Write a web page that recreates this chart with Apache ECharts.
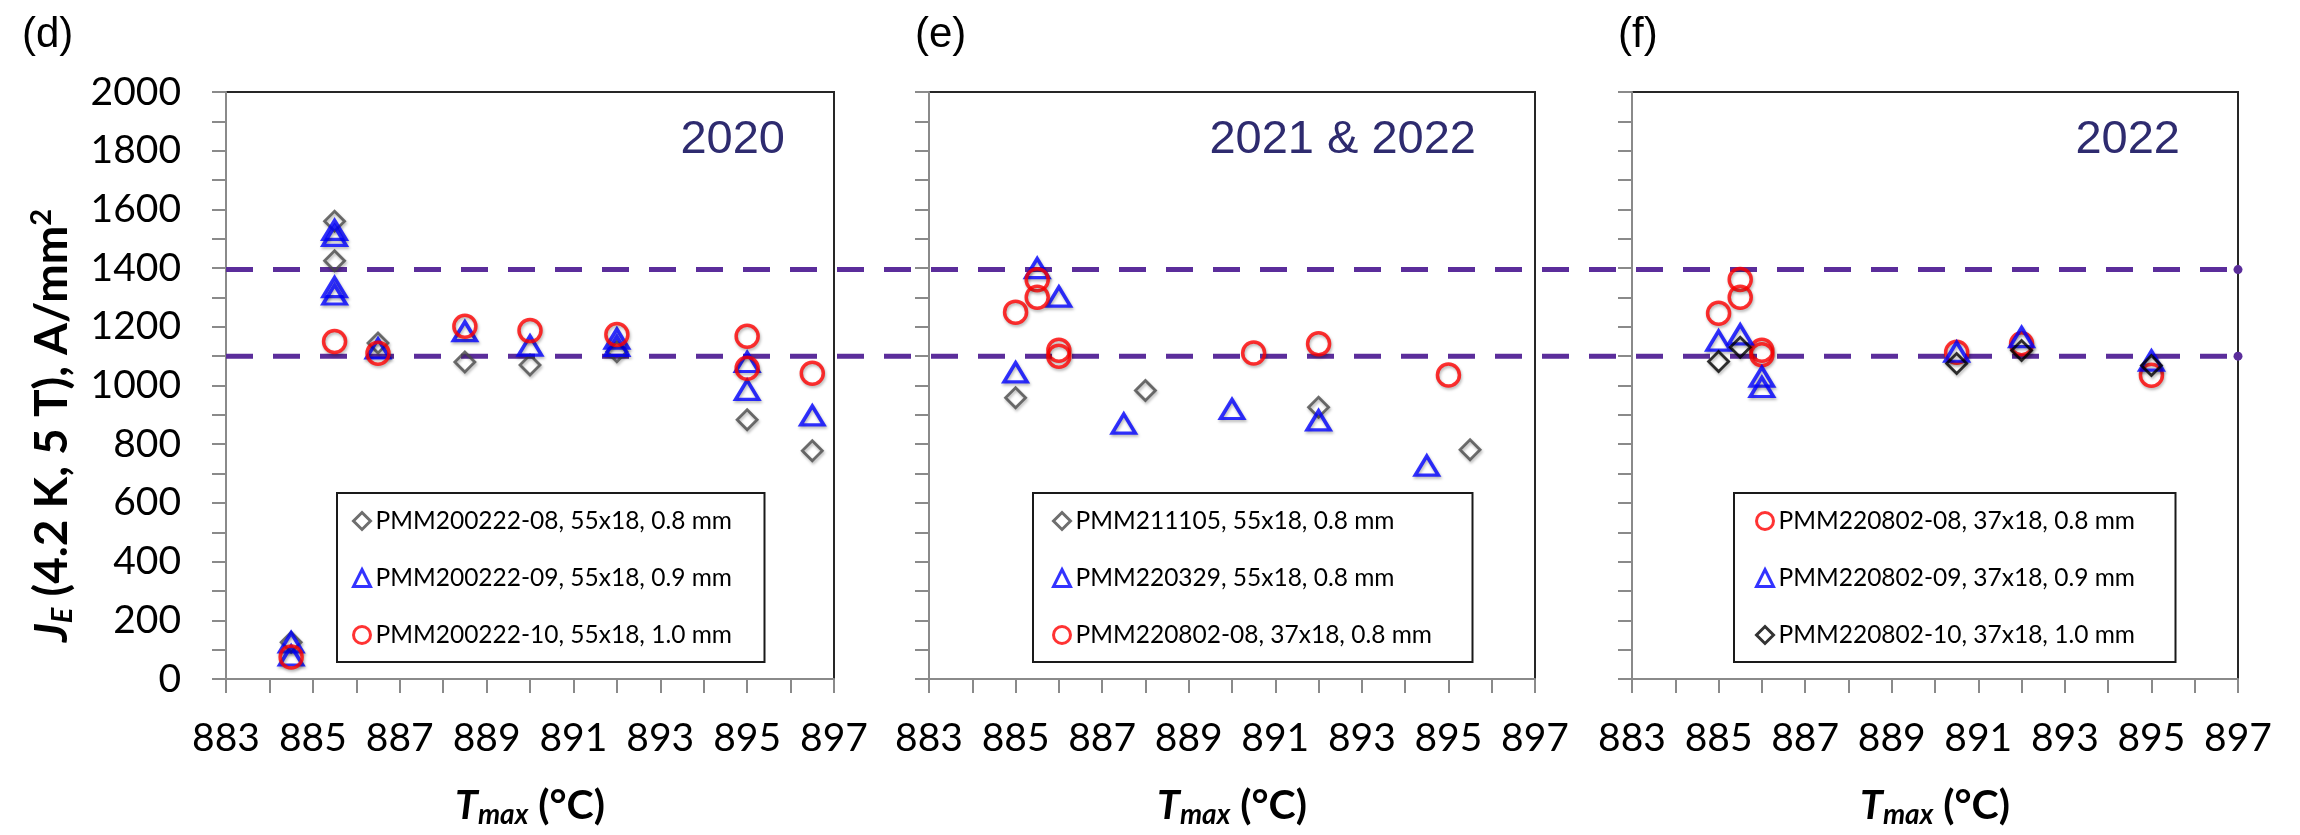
<!DOCTYPE html>
<html>
<head>
<meta charset="utf-8">
<script src="https://cdn.jsdelivr.net/npm/echarts/dist/echarts.min.js"></script>
<style>
  html, body { margin: 0; padding: 0; background: #fff; }
  #chart { width: 2300px; height: 835px; }
</style>
</head>
<body>
<div id="chart"></div>
<script>
// ---------------- data ----------------
const xMin = 883, xMax = 897;
const yMin = 0, yMax = 2000;
const thresholds = [1395, 1100];

const panelLabels = ['(d)', '(e)', '(f)'];
const yearLabels = ['2020', '2021 & 2022', '2022'];

// panel (d) 2020
const namesD = ['PMM200222-08, 55x18, 0.8 mm', 'PMM200222-09, 55x18, 0.9 mm', 'PMM200222-10, 55x18, 1.0 mm'];
const dDiamond = [[884.5,125],[885.5,1560],[885.5,1425],[886.5,1145],[888.5,1080],[890,1070],[892,1115],[895,883],[896.5,778]];
const dTriangle = [[884.5,125],[884.5,80],[885.5,1530],[885.5,1510],[885.5,1335],[885.5,1310],[886.5,1126],[888.5,1185],[890,1136],[892,1160],[892,1135],[895,1080],[895,985],[896.5,898]];
const dCircle = [[884.5,75],[885.5,1150],[886.5,1110],[888.5,1202],[890,1187],[892,1174],[895,1168],[895,1059],[896.5,1042]];

// panel (e) 2021 & 2022
const namesE = ['PMM211105, 55x18, 0.8 mm', 'PMM220329, 55x18, 0.8 mm', 'PMM220802-08, 37x18, 0.8 mm'];
const eDiamond = [[885,958],[888,983],[892,926],[895.5,781]];
const eTriangle = [[885,1045],[885.5,1400],[886,1303],[887.5,870],[890,920],[892,881],[894.5,727]];
const eCircle = [[885,1250],[885.5,1360],[885.5,1301],[886,1120],[886,1100],[890.5,1111],[892,1142],[895,1036]];

// panel (f) 2022
const namesF = ['PMM220802-08, 37x18, 0.8 mm', 'PMM220802-09, 37x18, 0.9 mm', 'PMM220802-10, 37x18, 1.0 mm'];
const fCircle = [[885,1246],[885.5,1361],[885.5,1301],[886,1120],[886,1105],[890.5,1113],[892,1142],[895,1035]];
const fTriangle = [[885,1153],[885.5,1174],[886,1030],[886,995],[890.5,1115],[892,1165],[895,1085]];
const fDiamond = [[885,1082],[885.5,1130],[890.5,1075],[892,1119],[895,1068]];

// ---------------- styling / layout ----------------
const FONT = 'Lato';
const AXIS_GRAY = '#8a8a8a';
const DASH_COLOR = '#5B2D9B';
const YEAR_COLOR = '#2E2B6F';
const RED = '#ff0000', BLUE = '#0000ff', GRAYD = '#4a4a4a', BLACK = '#000000';

const gridLefts = [226, 929, 1632];
const gridWidths = [608, 606, 606];
const gridTop = 92, gridHeight = 587;

const shadow = { shadowColor: 'rgba(0,0,0,0.35)', shadowBlur: 3, shadowOffsetX: 1, shadowOffsetY: 2 };

function scatter(name, idx, data, kind, color) {
  let symbol, size, bw;
  if (kind === 'circle') { symbol = 'circle'; size = 22; bw = 3.5; }
  else if (kind === 'triangle') { symbol = 'triangle'; size = [23, 19]; bw = 3.5; }
  else { symbol = 'diamond'; size = [20, 20]; bw = 2.8; }
  return {
    type: 'scatter', name: name, xAxisIndex: idx, yAxisIndex: idx,
    data: data, symbol: symbol, symbolSize: size, z: 3,
    itemStyle: Object.assign({ color: 'rgba(255,255,255,0)', borderColor: color, borderWidth: bw }, shadow),
    emphasis: { disabled: true }
  };
}

const grids = [], xAxes = [], yAxes = [];
for (let i = 0; i < 3; i++) {
  grids.push({ left: gridLefts[i], top: gridTop, width: gridWidths[i], height: gridHeight,
    show: true, borderColor: '#262626', borderWidth: 2, backgroundColor: 'rgba(0,0,0,0)' });
  xAxes.push({
    gridIndex: i, type: 'value', min: xMin, max: xMax, interval: 1,
    axisLine: { show: true, onZero: false, lineStyle: { color: AXIS_GRAY, width: 2 } },
    axisTick: { show: true, length: 14, lineStyle: { color: AXIS_GRAY, width: 2 } },
    axisLabel: { margin: 40, fontSize: 39, fontFamily: FONT, color: '#000',
      formatter: v => (Math.round(v) % 2 === 1 ? String(v) : '') },
    splitLine: { show: false },
    name: '{t|T}{s|max}{n| (°C)}', nameLocation: 'middle', nameGap: 104,
    nameTextStyle: { fontFamily: FONT, color: '#000', rich: {
      t: { fontFamily: FONT, fontSize: 41, fontWeight: 'bold', fontStyle: 'italic', color: '#000' },
      s: { fontFamily: FONT, fontSize: 28, fontWeight: 'bold', fontStyle: 'italic', color: '#000', padding: [18, 0, 0, 0] },
      n: { fontFamily: FONT, fontSize: 41, fontWeight: 'bold', color: '#000' }
    } }
  });
  const y = {
    gridIndex: i, type: 'value', min: yMin, max: yMax, interval: 100,
    axisLine: { show: true, onZero: false, lineStyle: { color: AXIS_GRAY, width: 2 } },
    axisTick: { show: true, length: 14, lineStyle: { color: AXIS_GRAY, width: 2 } },
    axisLabel: { show: i === 0, margin: 45, fontSize: 39, fontFamily: FONT, color: '#000',
      formatter: v => (v % 200 === 0 ? String(v) : '') },
    splitLine: { show: false }
  };
  if (i === 0) {
    y.name = '{j|J}{e|E}{t| (4.2 K, 5 T), A/mm}{s|2}';
    y.nameLocation = 'middle';
    y.nameGap = 148;
    y.nameTextStyle = { fontFamily: FONT, color: '#000', padding: [0, 80, 0, 0], rich: {
      j: { fontFamily: FONT, fontSize: 46, fontWeight: 'bold', fontStyle: 'italic', color: '#000' },
      e: { fontFamily: FONT, fontSize: 29, fontWeight: 'bold', fontStyle: 'italic', color: '#000', padding: [20, 0, 0, 0] },
      t: { fontFamily: FONT, fontSize: 46, fontWeight: 'bold', color: '#000' },
      s: { fontFamily: FONT, fontSize: 29, fontWeight: 'bold', color: '#000', padding: [0, 0, 22, 0] }
    } };
  }
  yAxes.push(y);
}
// overlay grid for the two dashed threshold lines spanning all panels
grids.push({ left: gridLefts[0], top: gridTop, width: gridLefts[2] + gridWidths[2] - gridLefts[0], height: gridHeight });
xAxes.push({ gridIndex: 3, type: 'value', min: 0, max: 1, show: false });
yAxes.push({ gridIndex: 3, type: 'value', min: yMin, max: yMax, show: false });

const series = [
  scatter(namesD[0], 0, dDiamond, 'diamond', GRAYD),
  scatter(namesD[1], 0, dTriangle, 'triangle', BLUE),
  scatter(namesD[2], 0, dCircle, 'circle', RED),
  scatter(namesE[0], 1, eDiamond, 'diamond', GRAYD),
  scatter(namesE[1], 1, eTriangle, 'triangle', BLUE),
  scatter(namesE[2], 1, eCircle, 'circle', RED),
  scatter(namesF[0], 2, fCircle, 'circle', RED),
  scatter(namesF[1], 2, fTriangle, 'triangle', BLUE),
  scatter(namesF[2], 2, fDiamond, 'diamond', BLACK)
];
thresholds.forEach(t => {
  series.push({
    type: 'line', xAxisIndex: 3, yAxisIndex: 3, z: 2, silent: true,
    data: [{ value: [0, t], symbol: 'none' }, { value: [1, t] }],
    symbol: 'circle', symbolSize: 9, showSymbol: true,
    itemStyle: { color: DASH_COLOR },
    lineStyle: { color: DASH_COLOR, width: 5, type: [27, 20], cap: 'butt' }
  });
});

function legendFor(names, left, padL, textW, padR) {
  return {
    orient: 'vertical', left: left, top: 493, padding: [15, padR, 14, padL],
    itemGap: 31, itemWidth: 17, itemHeight: 17,
    borderColor: '#1a1a1a', borderWidth: 2, backgroundColor: '#fff',
    selectedMode: false, data: names,
    itemStyle: { borderWidth: 3 },
    textStyle: { fontFamily: FONT, fontSize: 24.5, color: '#000', width: textW, lineHeight: 26, overflow: 'none' }
  };
}

const titles = [];
const panelLabelLefts = [22, 915, 1618];
panelLabels.forEach((t, i) => titles.push({ text: t, left: panelLabelLefts[i], top: 14, padding: 0,
  textStyle: { fontFamily: 'Liberation Sans', fontSize: 42, fontWeight: 'normal', color: '#000' } }));
const yearRights = [1515, 824, 120];
yearLabels.forEach((t, i) => titles.push({ text: t, right: yearRights[i], top: 117, padding: 0,
  textStyle: { fontFamily: 'Liberation Sans', fontSize: 47, fontWeight: 'normal', color: YEAR_COLOR } }));

const option = {
  backgroundColor: '#fff',
  animation: false,
  title: titles,
  grid: grids,
  xAxis: xAxes,
  yAxis: yAxes,
  legend: [
    legendFor(namesD, 337, 15, 376, 13),
    legendFor(namesE, 1033, 19, 383, 14),
    legendFor(namesF, 1734, 21, 381, 16)
  ],
  series: series
};

const chart = echarts.init(document.getElementById('chart'), null, { renderer: 'canvas' });
chart.setOption(option);
</script>
</body>
</html>
